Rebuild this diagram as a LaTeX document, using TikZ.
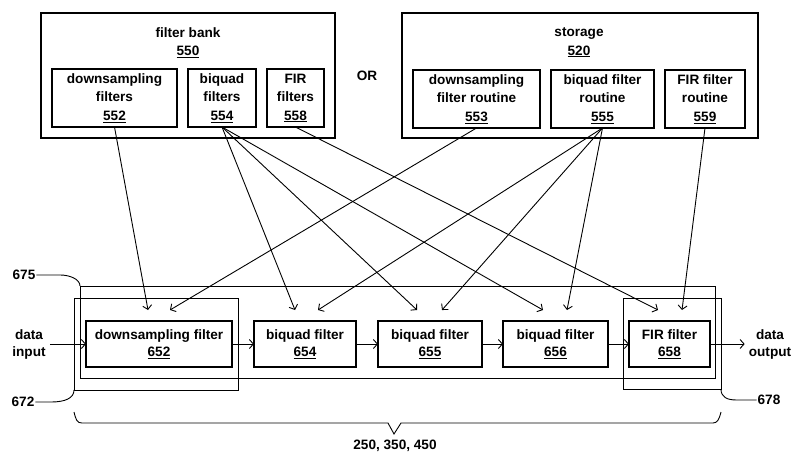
\documentclass[tikz,border=0pt]{standalone}
\usepackage{fontspec}
\setmainfont{Liberation Sans}
\usetikzlibrary{arrows.meta}

\begin{document}
\begin{tikzpicture}[x=1pt,y=1pt,yscale=-1,xscale=1,
  font=\fontsize{13.6}{18.5}\selectfont\bfseries,
  box/.style={draw, line width=1.3pt, inner sep=0pt, outer sep=0pt, align=center},
  grp/.style={draw, line width=0.9pt, inner sep=0pt, outer sep=0pt},
  feed/.style={line width=0.9pt, -{Straight Barb[length=4pt,width=9pt]}},
  lbl/.style={inner sep=0.75pt, align=center}]
\useasboundingbox (0,0) rectangle (792,453);

%Shape: Rectangle (filter bank)
\node [box, minimum width=294pt, minimum height=125pt] (bank550) at (188,75.5) {};
\node [lbl] (bank550t) at (188,42.5) {filter bank\\\underline{550}};
\node [box, minimum width=125pt, minimum height=58pt] (ds552) at (114.5,98) {downsampling\\filters\\\underline{552}};
\node [box, minimum width=68pt, minimum height=58pt] (bq554) at (222,98) {biquad\\filters\\\underline{554}};
\node [box, minimum width=57pt, minimum height=58pt] (fir558) at (295.5,98) {FIR\\filters\\\underline{558}};

% Text Node
\node [lbl] (or) at (367,76) {OR};

%Shape: Rectangle (storage)
\node [box, minimum width=356pt, minimum height=125pt] (stor520) at (580,75.5) {};
\node [lbl] (stor520t) at (579,42.5) {storage\\\underline{520}};
\node [box, minimum width=127pt, minimum height=58pt] (ds553) at (476.5,99) {downsampling\\filter routine\\\underline{553}};
\node [box, minimum width=103pt, minimum height=58pt] (bq555) at (602.5,99) {biquad filter\\routine\\\underline{555}};
\node [box, minimum width=80pt, minimum height=58pt] (fir559) at (705,99) {FIR filter\\routine\\\underline{559}};

%Shape: Rectangle (groups)
\node [grp, minimum width=635pt, minimum height=92pt] (g675) at (397.5,332) {};
\node [grp, minimum width=164pt, minimum height=92pt] (g672) at (156,344) {};
\node [grp, minimum width=98pt, minimum height=91pt] (g678) at (672,343.5) {};

%Shape: Rectangle (filter chain)
\node [box, minimum width=146pt, minimum height=46pt] (f652) at (159,344) {downsampling filter\\[-1.5pt]\underline{652}};
\node [box, minimum width=102pt, minimum height=46pt] (f654) at (305,344) {biquad filter\\[-1.5pt]\underline{654}};
\node [box, minimum width=104pt, minimum height=46pt] (f655) at (430,344) {biquad filter\\[-1.5pt]\underline{655}};
\node [box, minimum width=105pt, minimum height=46pt] (f656) at (555.5,344) {biquad filter\\[-1.5pt]\underline{656}};
\node [box, minimum width=81pt, minimum height=46pt] (f658) at (669.5,344) {FIR filter\\[-1.5pt]\underline{658}};

% Text Node
\node [lbl, inner sep=4pt] (din) at (29,344) {data\\[-1.5pt]input};
\node [lbl, inner sep=4pt] (dout) at (770,344) {data\\[-1.5pt]output};
\node [lbl] (l675) at (24,275) {675};
\node [lbl] (l672) at (23,402) {672};
\node [lbl] (l678) at (769,400) {678};
\node [lbl] (l250) at (395,446) {250, 350, 450};

%Straight Lines (chain)
\draw [feed] (din.east) -- (f652.west);
\draw [feed] (f652.east) -- (f654.west);
\draw [feed] (f654.east) -- (f655.west);
\draw [feed] (f655.east) -- (f656.west);
\draw [feed] (f656.east) -- (f658.west);
\draw [feed] (f658.east) -- (dout.west);

%Straight Lines (filter sources)
\coordinate (t652a) at (148,310);
\coordinate (t652b) at (170,310);
\coordinate (t654a) at (295,310);
\coordinate (t654b) at (318,310);
\coordinate (t655a) at (417,310);
\coordinate (t655b) at (442,310);
\coordinate (t656a) at (543,310);
\coordinate (t656b) at (567,310);
\coordinate (t658a) at (658,310);
\coordinate (t658b) at (682,310);
\draw [feed] (ds552.south) -- (t652a);
\draw [feed] (ds553.south) -- (t652b);
\draw [feed] (bq554.south) -- (t654a);
\draw [feed] (bq555.south) -- (t654b);
\draw [feed] (bq554.south) -- (t655a);
\draw [feed] (bq555.south) -- (t655b);
\draw [feed] (bq554.south) -- (t656a);
\draw [feed] (bq555.south) -- (t656b);
\draw [feed] (fir558.south) -- (t658a);
\draw [feed] (fir559.south) -- (t658b);

%Curve Lines (leaders)
\draw [line width=0.9pt] (l675.east) -- ++(24,0) .. controls +(9,0) and +(0,-7) .. (g675.north west);
\draw [line width=0.9pt] (l672.east) -- ++(16,0) .. controls +(14,0) and +(0,8) .. (g672.south west);
\draw [line width=0.9pt] (l678.west) -- ++(-20,0) .. controls +(-10,0) and +(0,8) .. (g678.south east);

%Shape: Brace
\draw [line width=0.9pt] (74,412) .. controls (76,420) and (77,423) .. (82,423) -- (388,423) -- (394,434) -- (401,423) -- (713,423) .. controls (717,423) and (719,420) .. (721,412);

\end{tikzpicture}
\end{document}
